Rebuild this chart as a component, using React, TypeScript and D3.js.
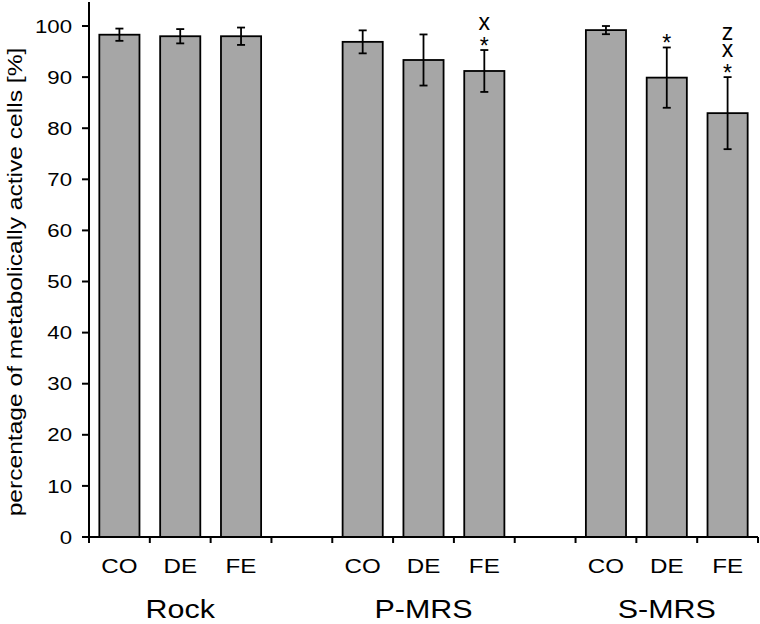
import React from "react";
import * as d3 from "d3";

const groups = ["Rock", "P-MRS", "S-MRS"];
const treatments = ["CO", "DE", "FE"];
const means = [
  [98.3, 98.0, 98.0],
  [96.9, 93.35, 91.2],
  [99.2, 89.9, 82.95],
];
const errors = [
  [1.2, 1.4, 1.7],
  [2.25, 5.0, 4.1],
  [0.8, 5.9, 7.05],
];
// significance markers, listed from the bottom up
const markers = [
  [[], [], []],
  [[], [], ["*", "x"]],
  [[], ["*"], ["*", "x", "z"]],
];
const yTicks = [0, 10, 20, 30, 40, 50, 60, 70, 80, 90, 100];
const yLabel = "percentage of metabolically active cells [%]";

const W = 760;
const H = 624;
const FONT = "'Liberation Sans', Arial, Helvetica, sans-serif";

export default function App() {
  const left = 89;
  const right = 758;
  const bottom = 537;
  const top = 2;
  const nSlots = groups.length * 4 - 1;
  const slots = d3.range(nSlots);
  const x = d3
    .scaleBand<number>()
    .domain(slots)
    .range([left, right])
    .paddingInner(0.34)
    .paddingOuter(0.17);
  const y = d3.scaleLinear().domain([0, 104.7]).range([bottom, top]);
  const step = x.step();
  const bw = x.bandwidth();
  const boundaries = d3.range(nSlots + 1).map((i) => left + i * step);

  const bars = groups.flatMap((g, gi) =>
    treatments.map((t, ti) => ({
      g,
      t,
      slot: gi * 4 + ti,
      v: means[gi][ti],
      e: errors[gi][ti],
      m: markers[gi][ti] as string[],
    }))
  );

  return (
    <svg
      width={W}
      height={H}
      style={{ position: "absolute", left: 0, top: 0, background: "#fff" }}
      fontFamily={FONT}
    >
      <rect x={0} y={0} width={W} height={H} fill="#fff" />
      {bars.map((b) => {
        const bx = x(b.slot)!;
        const cx = bx + bw / 2;
        const yTop = y(b.v + b.e);
        const yBot = y(b.v - b.e);
        const ys = b.m.map((s, k) => (k === 0 ? yTop + 3.6 : yTop - 20.5 - (k - 1) * 16.5));
        return (
          <g key={b.g + b.t}>
            <rect
              x={bx}
              y={y(b.v)}
              width={bw}
              height={bottom - y(b.v)}
              fill="#a6a6a6"
              stroke="#000"
              strokeWidth={1.8}
            />
            <line x1={cx} x2={cx} y1={yTop} y2={yBot} stroke="#000" strokeWidth={1.8} />
            <line x1={cx - 4} x2={cx + 4} y1={yTop} y2={yTop} stroke="#000" strokeWidth={1.8} />
            <line x1={cx - 4} x2={cx + 4} y1={yBot} y2={yBot} stroke="#000" strokeWidth={1.8} />
            {b.m.length > 0 && (
              <text
                x={b.m.map(() => cx.toFixed(2)).join(" ")}
                y={ys.map((v) => v.toFixed(2)).join(" ")}
                textAnchor="middle"
                fill="#000"
                fontSize={23}
              >
                {b.m.join("")}
              </text>
            )}
          </g>
        );
      })}
      {/* y axis */}
      <line x1={left} x2={left} y1={top} y2={bottom + 6} stroke="#000" strokeWidth={2} />
      {yTicks.map((t) => (
        <g key={t}>
          <line x1={left - 7} x2={left} y1={y(t)} y2={y(t)} stroke="#000" strokeWidth={2} />
          <text
            transform={`translate(${72},${y(t) + 6.6}) scale(1.2,1)`}
            textAnchor="end"
            fontSize={18.5}
            fill="#000"
          >
            {t}
          </text>
        </g>
      ))}
      {/* x axis */}
      <line x1={left - 7} x2={right} y1={bottom} y2={bottom} stroke="#000" strokeWidth={2} />
      {boundaries.map((bx, i) => (
        <line key={i} x1={bx} x2={bx} y1={bottom} y2={bottom + 6} stroke="#000" strokeWidth={2} />
      ))}
      {bars.map((b) => (
        <text
          key={"l" + b.g + b.t}
          transform={`translate(${x(b.slot)! + bw / 2},${573}) scale(1.24,1)`}
          textAnchor="middle"
          fontSize={19.5}
          fill="#000"
        >
          {b.t}
        </text>
      ))}
      {groups.map((g, gi) => (
        <text
          key={g}
          transform={`translate(${x(gi * 4 + 1)! + bw / 2},${618}) scale(1.17,1)`}
          textAnchor="middle"
          fontSize={26}
          fill="#000"
        >
          {g}
        </text>
      ))}
      <text
        transform={`translate(${22},${282}) rotate(-90) scale(1.2,1)`}
        textAnchor="middle"
        fontSize={20.5}
        fill="#000"
      >
        {yLabel}
      </text>
    </svg>
  );
}
